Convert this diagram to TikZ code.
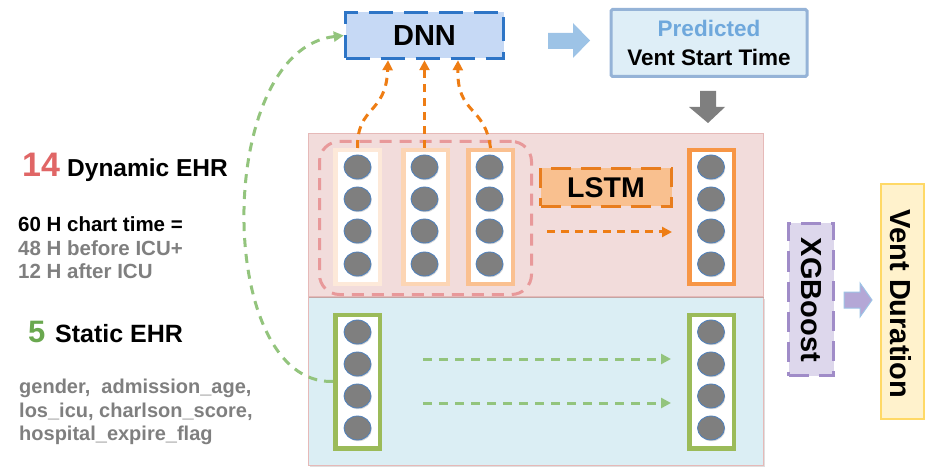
\documentclass[tikz,border=0pt]{standalone}
\usepackage{fontspec}
\setmainfont{Liberation Sans}
\usetikzlibrary{shapes.geometric,arrows.meta,shadows}
\definecolor{dnnfill}{HTML}{C6D9F5}
\definecolor{dnnline}{HTML}{2E75C6}
\definecolor{predfill}{HTML}{DEEEF7}
\definecolor{predline}{HTML}{95B3D7}
\definecolor{predtext}{HTML}{6FA8DC}
\definecolor{blockblue}{HTML}{9DC3E6}
\definecolor{blockgray}{HTML}{7F7F7F}
\definecolor{pinkpanel}{HTML}{F2DCDB}
\definecolor{pinkline}{HTML}{E6B9B8}
\definecolor{bluepanel}{HTML}{DBEEF4}
\definecolor{grpline}{HTML}{E8999A}
\definecolor{orangearr}{HTML}{EE7D14}
\definecolor{lstmfill}{HTML}{F9C08F}
\definecolor{lstmline}{HTML}{E87D1E}
\definecolor{colA}{HTML}{FDE9D9}
\definecolor{colB}{HTML}{FCD5B4}
\definecolor{colC}{HTML}{FAC090}
\definecolor{colD}{HTML}{F79646}
\definecolor{colG}{HTML}{9BBB59}
\definecolor{greenarr}{HTML}{93C47D}
\definecolor{xgbfill}{HTML}{DDD7EC}
\definecolor{xgbline}{HTML}{A08CC8}
\definecolor{purplearr}{HTML}{B4A7D6}
\definecolor{ventfill}{HTML}{FFF2CC}
\definecolor{ventline}{HTML}{FFD966}
\definecolor{dotgray}{HTML}{7F7F7F}
\definecolor{dotline}{HTML}{4F81BD}
\definecolor{redtext}{HTML}{E06666}
\definecolor{greentext}{HTML}{6AA84F}
\definecolor{graytext}{HTML}{7F7F7F}
\newcommand\myfs[1]{\fontsize{#1}{#1}\selectfont}
\begin{document}
\begin{tikzpicture}[x=1pt,y=-1pt,font=\bfseries,
  colbox/.style={draw, fill=white, line width=4.5pt, minimum width=44.5pt, minimum height=133.5pt, inner sep=0pt},
  dot/.style={ellipse, minimum width=27pt, minimum height=24pt, inner sep=0pt, fill=dotgray, draw=dotline, line width=0.8pt,
    drop shadow={opacity=0.3, shadow xshift=0.8pt, shadow yshift=-1.2pt}},
  txt/.style={anchor=base west, inner sep=0pt},
  orarrow/.style={draw=orangearr, line width=3pt, dash pattern=on 8pt off 6pt, -{Triangle[length=10pt,width=10pt]}},
  grarrow/.style={draw=greenarr, line width=3pt, dash pattern=on 9pt off 7pt, -{Triangle[length=10pt,width=10pt]}},
]
\useasboundingbox (0,0) rectangle (940,473);

% panels
\node[draw=pinkline, fill=bluepanel, line width=1pt, minimum width=455pt, minimum height=168pt, inner sep=0pt, drop shadow={opacity=0.25, shadow xshift=1pt, shadow yshift=-1.5pt}] (bpanel) at (536,381) {};
\node[draw=pinkline, fill=pinkpanel, line width=1pt, minimum width=455pt, minimum height=162pt, inner sep=0pt, drop shadow={opacity=0.35, shadow xshift=0pt, shadow yshift=-1.5pt}] (ppanel) at (536,215) {};

% group outline
\node[draw=grpline, line width=3pt, dash pattern=on 12pt off 8pt, rounded corners=20pt, minimum width=212pt, minimum height=153pt, inner sep=0pt] (grp) at (425.5,218) {};

% columns
\node[colbox, draw=colA] (c1) at (357.5,217) {};
\node[colbox, draw=colB] (c2) at (425.5,217) {};
\node[colbox, draw=colC] (c3) at (490.5,217) {};
\node[colbox, draw=colD] (c4) at (711.5,217) {};
\node[colbox, draw=colG] (gl) at (357.5,381.5) {};
\node[colbox, draw=colG] (gr) at (711.5,381.5) {};

\foreach \c/\x in {c1/357.5, c2/424.5, c3/489.5, c4/711} {
  \foreach \i/\y in {1/167, 2/199, 3/231, 4/264} {
    \node[dot] (\c-\i) at (\x,\y) {};
  }
}
\foreach \c/\x in {gl/357.5, gr/711} {
  \foreach \i/\y in {1/332, 2/364, 3/396, 4/428} {
    \node[dot] (\c-\i) at (\x,\y) {};
  }
}

% DNN box
\node[draw=dnnline, fill=dnnfill, line width=3.5pt, dash pattern=on 24pt off 11pt, minimum width=158pt, minimum height=46pt, inner sep=0pt, font=\bfseries\myfs{29pt}] (dnn) at (424.5,35.5) {DNN};

% Predicted box
\node[draw=predline, fill=predfill, line width=3pt, rounded corners=1.5pt, minimum width=196pt, minimum height=67pt, inner sep=0pt] (pred) at (709,43) {};
\node[anchor=base, inner sep=0pt, text=predtext, font=\bfseries\myfs{22.5pt}] (predA) at (709,37) {Predicted};
\node[anchor=base, inner sep=0pt, font=\bfseries\myfs{22.5pt}] (predB) at (709,66) {Vent Start Time};

% LSTM box
\node[draw=lstmline, fill=lstmfill, line width=3pt, dash pattern=on 20pt off 10pt, minimum width=131pt, minimum height=38pt, inner sep=0pt, font=\bfseries\myfs{28.5pt}] (lstm) at (606,187.5) {LSTM};

% XGBoost box
\node[draw=xgbline, fill=xgbfill, line width=3pt, dash pattern=on 20pt off 10pt, minimum width=45pt, minimum height=152pt, inner sep=0pt] (xgb) at (811,299.5) {};
\node[rotate=-90, inner sep=0pt, font=\bfseries\myfs{29pt}] (xgbt) at (811,300) {XGBoost};

% Vent Duration box
\node[draw=ventline, fill=ventfill, line width=2.5pt, minimum width=43pt, minimum height=235pt, inner sep=0pt] (vent) at (902.5,301.5) {};
\node[rotate=-90, inner sep=0pt, font=\bfseries\myfs{29pt}] (ventt) at (901,304) {Vent Duration};

% block arrows
\fill[blockblue] (548,33) -- (573,33) -- (573,23) -- (590,40.5) -- (573,58) -- (573,49) -- (548,49) -- cycle;
\fill[blockgray] (700,91) -- (716,91) -- (716,107) -- (725,107) -- (708,123) -- (689,107) -- (700,107) -- cycle;
\filldraw[fill=purplearr, draw=blockblue, line width=1pt] (844,292) -- (860,292) -- (860,283) -- (872,300) -- (860,317) -- (860,308) -- (844,308) -- cycle;

% orange connectors to DNN
\draw[orarrow] (c1.north) .. controls (357,105) and (386,115) .. ([xshift=-36.5pt]dnn.south);
\draw[orarrow] (c2.north -| dnn.south) -- (dnn.south);
\draw[orarrow] (c3.north) .. controls (485,105) and (457,115) .. ([xshift=33.5pt]dnn.south);

% LSTM arrow
\coordinate (la) at (547,232);
\coordinate (lb) at (672,232);
\draw[orarrow] (la) -- (lb);

% green arrows
\coordinate (ga1) at (423,359);
\coordinate (gb1) at (671,359);
\coordinate (ga2) at (423,403);
\coordinate (gb2) at (671,403);
\draw[grarrow] (ga1) -- (gb1);
\draw[grarrow] (ga2) -- (gb2);
\draw[grarrow] (gl.west) .. controls (214,385) and (214,50) .. (dnn.west);

% left texts
\node[txt, text=redtext, font=\bfseries\myfs{34pt}] (n14) at (22,177) {14};
\node[txt, font=\bfseries\myfs{24.5pt}] (dyn) at (67,177) {Dynamic EHR};
\node[txt, font=\bfseries\myfs{20.5pt}] (l1) at (18,232) {60 H chart time =};
\node[txt, text=graytext, font=\bfseries\myfs{20.5pt}] (l2) at (18,255) {48 H before ICU+};
\node[txt, text=graytext, font=\bfseries\myfs{20.5pt}] (l3) at (18,279) {12 H after ICU};
\node[txt, text=greentext, font=\bfseries\myfs{31pt}] (n5) at (28,342) {5};
\node[txt, font=\bfseries\myfs{25pt}] (stat) at (55,342) {Static EHR};
\node[txt, text=graytext, font=\bfseries\myfs{20pt}] (s1) at (19,393) {gender,\ \ admission\_age,};
\node[txt, text=graytext, font=\bfseries\myfs{20pt}] (s2) at (19,417) {los\_icu, charlson\_score,};
\node[txt, text=graytext, font=\bfseries\myfs{20pt}] (s3) at (19,440) {hospital\_expire\_flag};
\end{tikzpicture}
\end{document}
